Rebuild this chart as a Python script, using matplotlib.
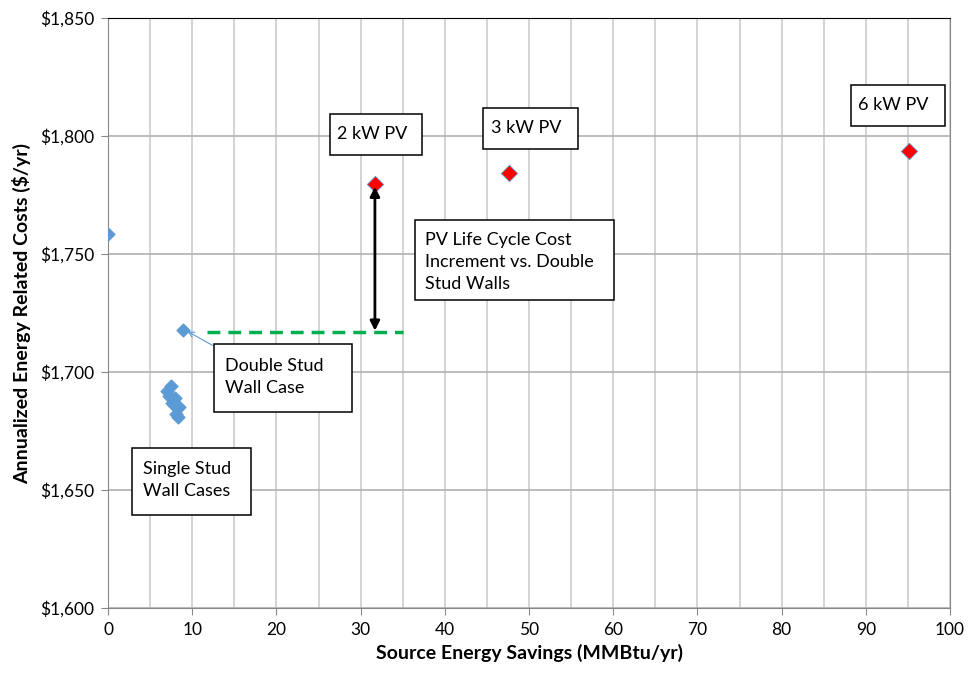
import matplotlib.pyplot as plt
from matplotlib.patches import Rectangle
from matplotlib.ticker import MultipleLocator, FuncFormatter

plt.rcParams['font.family'] = ['Lato', 'DejaVu Sans']

# base case and single stud wall cases
base_x = [0.0]
base_y = [1758.5]
single_x = [7.0, 7.5, 7.3, 8.0, 7.8, 8.4, 8.1, 8.3, 7.6]
single_y = [1692, 1694, 1690, 1689, 1686, 1685, 1682, 1681, 1687]
double_x = [8.9]
double_y = [1718]
pv_x = [31.7, 47.6, 95.1]
pv_y = [1779.5, 1784.3, 1793.8]
pv_labels = ['2 kW PV', '3 kW PV', '6 kW PV']

blue = '#5B9BD5'

fig = plt.figure(figsize=(9.69, 6.8), dpi=100)
ax = fig.add_axes([108 / 969, 1 - 608 / 680, 842 / 969, 590 / 680])

ax.scatter(base_x + single_x + double_x, base_y + single_y + double_y,
           marker='D', s=42, color=blue, zorder=3)
ax.scatter(pv_x, pv_y, marker='D', s=70, color='red', edgecolor=blue,
           linewidth=0.6, zorder=4)

ax.set_xlim(0, 100)
ax.set_ylim(1600, 1850)
ax.xaxis.set_major_locator(MultipleLocator(10))
ax.xaxis.set_minor_locator(MultipleLocator(5))
ax.yaxis.set_major_locator(MultipleLocator(50))
ax.yaxis.set_major_formatter(FuncFormatter(lambda v, p: '${:,.0f}'.format(v)))
ax.grid(which='both', axis='x', color='#cccccc', linewidth=1.2)
ax.grid(which='major', axis='y', color='#b0b0b0', linewidth=1.2)
ax.set_axisbelow(True)
ax.tick_params(axis='both', which='major', length=5, color='#888888',
               direction='out', labelsize=12.5, pad=5)
ax.tick_params(axis='x', which='minor', length=0)
for s in ['left', 'bottom', 'right']:
    ax.spines[s].set_color('#888888')
ax.spines['top'].set_color('black')

ax.set_xlabel('Source Energy Savings (MMBtu/yr)', fontsize=14, fontweight='bold', labelpad=4)
ax.set_ylabel('Annualized Energy Related Costs ($/yr)', fontsize=14, fontweight='bold', labelpad=6)


def text_box(x0, x1, y0, y1, tx, ty, text, ha='left'):
    ax.add_patch(Rectangle((x0, y0), x1 - x0, y1 - y0, facecolor='white',
                           edgecolor='black', linewidth=1.1, zorder=5))
    ax.text(tx, ty, text, fontsize=13, ha=ha, va='center', linespacing=1.45, zorder=6)


# PV labels
text_box(26.4, 37.3, 1791.9, 1809.3, 31.4, 1801.0, pv_labels[0], ha='center')
text_box(44.5, 55.8, 1794.5, 1811.9, 49.7, 1803.6, pv_labels[1], ha='center')
text_box(88.2, 99.4, 1804.2, 1821.6, 93.3, 1813.2, pv_labels[2], ha='center')

# green dashed baseline for double stud walls
ax.plot([11.8, 35], [1717, 1717], color='#00B050', linestyle=(0, (3.7, 2.3)),
        linewidth=2.5, zorder=2)
# life cycle cost increment arrow
ax.annotate('', xy=(31.7, 1778.5), xytext=(31.7, 1717.5),
            arrowprops=dict(arrowstyle='<|-|>', color='black', lw=2,
                            mutation_scale=14, shrinkA=0, shrinkB=0), zorder=5)
text_box(36.5, 60.1, 1730.3, 1764.4, 37.7, 1746.6,
         'PV Life Cycle Cost\nIncrement vs. Double\nStud Walls')

# double stud callout
ax.annotate('', xy=(9.3, 1717.5), xytext=(12.4, 1711.3),
            arrowprops=dict(arrowstyle='->', color=blue, lw=0.8, shrinkA=0, shrinkB=1),
            zorder=4)
text_box(12.6, 29.0, 1683.0, 1711.9, 13.9, 1698.0, 'Double Stud\nWall Case')

text_box(2.9, 17.0, 1639.4, 1667.8, 4.1, 1654.2, 'Single Stud\nWall Cases')

fig.savefig('out.png', dpi=100)
